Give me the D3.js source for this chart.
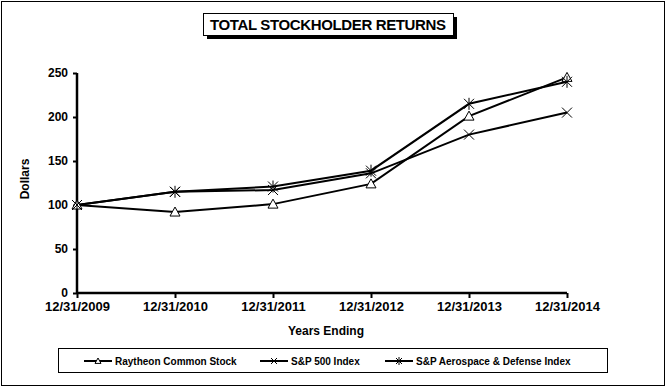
<!DOCTYPE html>
<html>
<head>
<meta charset="utf-8">
<script src="https://cdn.jsdelivr.net/npm/d3@7"></script>
<style>
  body { margin: 0; background: #fff; }
  text { font-family: "Liberation Sans", Arial, sans-serif; font-weight: bold; fill: #000; }
</style>
</head>
<body>
<div id="chart"></div>
<script>
// data
const years = ["12/31/2009", "12/31/2010", "12/31/2011", "12/31/2012", "12/31/2013", "12/31/2014"];
const raytheon = [100, 92, 101, 124, 201, 245];
const sp500 = [100, 115, 117, 136, 180, 205];
const aeroDefense = [100, 115, 121, 139, 215, 240];
const yTicks = [0, 50, 100, 150, 200, 250];

const series = [
    {name: "Raytheon Common Stock", values: raytheon, marker: "triangle"},
    {name: "S&P 500 Index", values: sp500, marker: "cross"},
    {name: "S&P Aerospace & Defense Index", values: aeroDefense, marker: "star"}
];

const W = 668, H = 388;
const margin = {top: 73, right: 101, bottom: 95, left: 77};
const width = W - margin.left - margin.right;
const height = H - margin.top - margin.bottom;

const svg = d3.select("#chart").append("svg")
    .attr("width", W)
    .attr("height", H);

// outer frame
svg.append("rect")
    .attr("x", 1.5).attr("y", 1.5)
    .attr("width", W - 5).attr("height", H - 4)
    .attr("fill", "none").attr("stroke", "#000").attr("stroke-width", 1);

// title box with shadow
svg.append("rect")
    .attr("x", 207).attr("y", 17)
    .attr("width", 250).attr("height", 22)
    .attr("fill", "#000");
svg.append("rect")
    .attr("x", 203.5).attr("y", 13.5)
    .attr("width", 250).attr("height", 22)
    .attr("fill", "#fff").attr("stroke", "#000");
svg.append("text")
    .attr("x", 328).attr("y", 30)
    .attr("text-anchor", "middle")
    .style("font-size", "15px")
    .attr("textLength", 236)
    .text("TOTAL STOCKHOLDER RETURNS");

const g = svg.append("g")
    .attr("transform", `translate(${margin.left},${margin.top})`);

// scales
const x = d3.scalePoint().domain(years).range([0, width]);
const y = d3.scaleLinear().domain([0, 250]).range([height, 0]);

// axes
const xAxis = g.append("g")
    .attr("transform", `translate(0,${height})`)
    .call(d3.axisBottom(x).tickSize(5).tickPadding(4));
const yAxis = g.append("g")
    .call(d3.axisLeft(y).tickValues(yTicks).tickSize(4).tickPadding(5));

[xAxis, yAxis].forEach(a => {
    a.select(".domain").attr("stroke-width", 2.5);
    a.selectAll(".tick line").attr("stroke-width", 2);
    a.selectAll(".tick text")
        .style("font-family", "'Liberation Sans', Arial, sans-serif")
        .style("font-weight", "bold");
});
xAxis.selectAll(".tick text").style("font-size", "13px");
yAxis.selectAll(".tick text").style("font-size", "12px");
xAxis.select(".domain").attr("d", `M0,0H${width}`);
yAxis.select(".domain").attr("d", `M0,0V${height}`);

// axis labels
g.append("text")
    .attr("x", width / 2 + 4).attr("y", height + 42)
    .attr("text-anchor", "middle")
    .style("font-size", "12px")
    .text("Years Ending");

g.append("text")
    .attr("transform", "rotate(-90)")
    .attr("x", -height / 2 + 4).attr("y", -48)
    .attr("text-anchor", "middle")
    .style("font-size", "12px")
    .text("Dollars");

// markers
function drawMarker(sel, type, s) {
    if (type === "triangle") {
        sel.append("path")
            .attr("d", `M0,${-s}L${s},${s * 0.8}L${-s},${s * 0.8}Z`)
            .attr("fill", "#fff").attr("stroke", "#000").attr("stroke-width", 1);
    } else {
        sel.append("path")
            .attr("d", `M${-s},${-s}L${s},${s}M${-s},${s}L${s},${-s}`)
            .attr("stroke", "#000").attr("stroke-width", 1);
        if (type === "star") {
            sel.append("path")
                .attr("d", `M0,${-s - 1}V${s + 1}`)
                .attr("stroke", "#000").attr("stroke-width", 1);
        }
    }
}

const line = d3.line()
    .x((d, i) => x(years[i]))
    .y(d => y(d));

const lines = g.append("g").attr("class", "lines");

series.forEach(s => {
    lines.append("path")
        .datum(s.values)
        .attr("d", line)
        .attr("fill", "none")
        .attr("stroke", "#000")
        .attr("stroke-width", 2);
});

series.forEach(s => {
    s.values.forEach((v, i) => {
        const m = lines.append("g")
            .attr("transform", `translate(${x(years[i])},${y(v)})`);
        drawMarker(m, s.marker, 5);
    });
});

// legend
const legend = svg.append("g");
legend.append("rect")
    .attr("x", 58.5).attr("y", 348.5)
    .attr("width", 549).attr("height", 24)
    .attr("fill", "#fff").attr("stroke", "#000");

const legendX = [84, 260, 385];
series.forEach((s, i) => {
    const lg = legend.append("g")
        .attr("transform", `translate(${legendX[i]},361)`);
    lg.append("path")
        .attr("d", "M0,0H28")
        .attr("stroke", "#000").attr("stroke-width", 2);
    const m = lg.append("g").attr("transform", "translate(14,0)");
    drawMarker(m, s.marker, 3);
    lg.append("text")
        .attr("x", 31).attr("y", 4)
        .style("font-size", "10px")
        .text(s.name);
});
</script>
</body>
</html>
